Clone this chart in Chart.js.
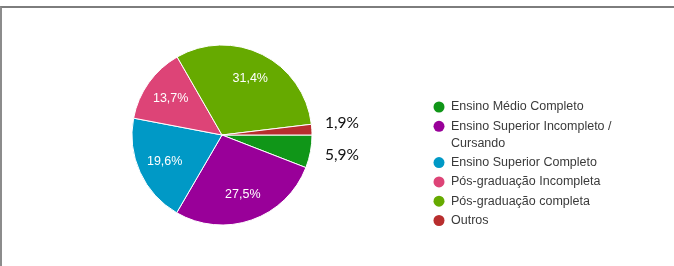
<!DOCTYPE html>
<html>
<head>
<meta charset="utf-8">
<script src="https://cdn.jsdelivr.net/npm/chart.js@4/dist/chart.umd.min.js"></script>
<style>
  html, body { margin: 0; padding: 0; background: #fff; }
  #wrap { position: relative; width: 674px; height: 266px; overflow: hidden; }
  #frame { position: absolute; left: 0; top: 6px; width: 672px; height: 262px;
           border-top: 2px solid #7d7d7d; border-left: 2px solid #8c8c8c; }
  canvas { position: absolute; left: 0; top: 0; }
</style>
</head>
<body>
<div id="wrap">
  <div id="frame"></div>
  <canvas id="chart" width="674" height="266"></canvas>
</div>
<script>
const categories = [
    'Ensino Médio Completo',
    'Ensino Superior Incompleto / Cursando',
    'Ensino Superior Completo',
    'Pós-graduação Incompleta',
    'Pós-graduação completa',
    'Outros'
];
const percents = [5.9, 27.5, 19.6, 13.7, 31.4, 1.9];
const colors = ['#109618', '#990099', '#0099c6', '#dd4477', '#66aa00', '#b82e2e'];

function fmt(v) {
    return v.toFixed(1).replace('.', ',') + '%'
}

// percentage labels: white inside the big slices, black outside the small ones
const sliceLabels = {
    id: 'sliceLabels',
    afterDatasetsDraw(chart) {
        const ctx = chart.ctx;
        const meta = chart.getDatasetMeta(0);
        ctx.save();
        ctx.textBaseline = 'middle';
        meta.data.forEach((arc, i) => {
            const { x, y, startAngle, endAngle, outerRadius } = arc.getProps(['x', 'y', 'startAngle', 'endAngle', 'outerRadius'], true);
            const mid = (startAngle + endAngle) / 2;
            const val = percents[i];
            if (val >= 8) {
                ctx.font = '12.5px "Liberation Sans", Arial, sans-serif';
                ctx.fillStyle = '#ffffff';
                ctx.textAlign = 'center';
                ctx.fillText(fmt(val), x + Math.cos(mid) * outerRadius * 0.7, y + Math.sin(mid) * outerRadius * 0.7);
            } else {
                //small slices get an outside label, pushed apart a bit
                const s = Math.sin(mid);
                ctx.font = '15.5px Lato, "Open Sans", sans-serif';
                ctx.fillStyle = '#111111';
                ctx.textAlign = 'left';
                ctx.fillText(fmt(val), x + outerRadius + 13, y + s * outerRadius + (s < 0 ? -7 : 3));
            }
        });
        ctx.restore();
    }
};

// legend drawn by hand so it sits where the original one is
const sideLegend = {
    id: 'sideLegend',
    afterDraw(chart, args, opts) {
        const ctx = chart.ctx;
        ctx.save();
        ctx.font = '12.5px "Liberation Sans", Arial, sans-serif';
        ctx.textBaseline = 'middle';
        ctx.textAlign = 'left';
        let y = opts.top;
        categories.forEach((label, i) => {
            ctx.fillStyle = colors[i];
            ctx.beginPath();
            ctx.arc(opts.left, y, 5.5, 0, Math.PI * 2);
            ctx.fill();

            // wrap long labels
            const words = label.split(' ');
            const lines = [];
            let line = '';
            words.forEach(w => {
                const test = line ? line + ' ' + w : w;
                if (ctx.measureText(test).width > opts.maxWidth && line) {
                    lines.push(line);
                    line = w;
                } else {
                    line = test;
                }
            });
            lines.push(line);

            ctx.fillStyle = '#3a3a3a';
            lines.forEach((l, j) => {
                ctx.fillText(l, opts.left + 12, y + j * opts.lineHeight);
            });
            y += (lines.length - 1) * opts.lineHeight + opts.rowHeight;
        });
        ctx.restore();
    }
};

new Chart(document.getElementById('chart'), {
    type: 'pie',
    data: {
        labels: categories,
        datasets: [{
            data: percents,
            backgroundColor: colors,
            borderColor: '#ffffff',
            borderWidth: 1
        }]
    },
    options: {
        responsive: false,
        animation: false,
        rotation: 90,
        radius: 90,
        layout: { padding: { left: 132, right: 362, top: 45, bottom: 41 } },
        plugins: {
            legend: { display: false },
            tooltip: { enabled: false },
            sideLegend: { left: 439, top: 107, rowHeight: 19.3, lineHeight: 17, maxWidth: 165 }
        }
    },
    plugins: [sliceLabels, sideLegend]
});
</script>
</body>
</html>
